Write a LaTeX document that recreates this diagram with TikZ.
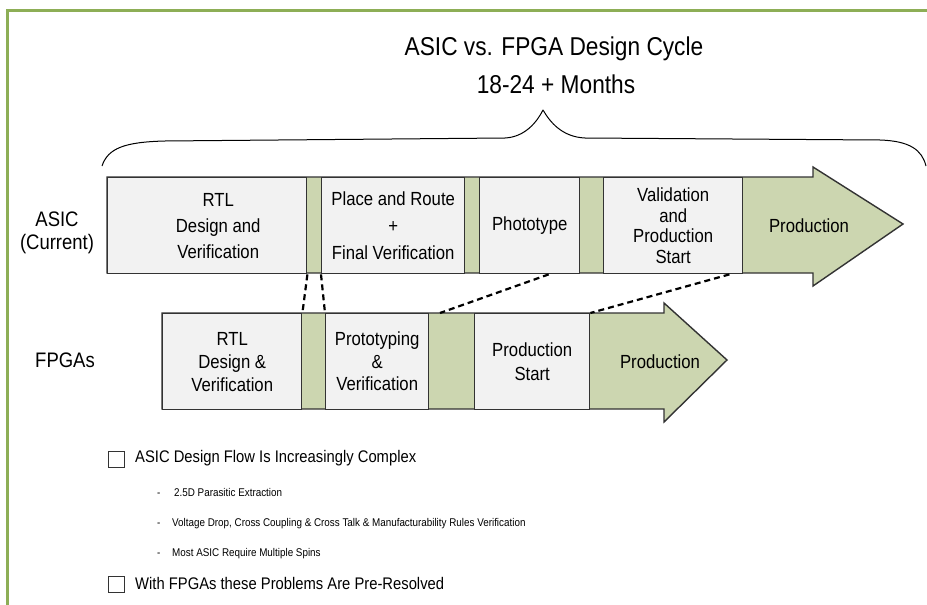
\documentclass[tikz,border=0pt]{standalone}
\usepackage{fontspec}
\setmainfont{Liberation Sans}[FakeStretch=0.88]
\definecolor{sage}{HTML}{CCD6B0}
\definecolor{boxgray}{HTML}{F2F2F2}
\definecolor{edge}{HTML}{333333}
\definecolor{framegreen}{HTML}{8DAE56}
\begin{document}
\begin{tikzpicture}[x=1pt,y=-1pt,
  stage/.style={draw=edge, line width=1.4pt, fill=boxgray, rectangle, anchor=north west, inner sep=0pt, align=center, minimum height=96pt},
  arrowshape/.style={draw=edge, line width=1.4pt, fill=sage},
  link/.style={line width=2.2pt, dash pattern=on 6pt off 4pt},
  lbl/.style={font=\fontsize{21}{23}\selectfont, align=center, inner sep=0pt},
  prod/.style={font=\fontsize{19}{22}\selectfont, inner sep=0pt},
  ttl/.style={font=\fontsize{25.8}{28}\selectfont, inner sep=0pt},
  chk/.style={draw=edge, line width=1.1pt, minimum size=16pt, inner sep=0pt, fill=white},
  bigitem/.style={anchor=west, font=\fontsize{16.8}{18}\selectfont, inner sep=0pt},
  smallitem/.style={anchor=base west, font=\fontsize{11.2}{13}\selectfont, inner sep=0pt}
]
\useasboundingbox (0,0) rectangle (927,605);
% frame
\draw[framegreen, line width=2.5pt] (7.5,606) -- (7.5,10.5) -- (928,10.5);
% title
\node[ttl] (title) at (554,48.5) {ASIC vs. FPGA Design Cycle};
\node[ttl] (months) at (556,84) {18-24 + Months};
% brace
\draw[line width=1pt, line join=round] (102,166) .. controls (108,148) and (125,142) .. (165,141)
  -- (505,138) .. controls (525,137) and (537,122) .. (543,110)
  .. controls (550,122) and (562,137) .. (585,138)
  -- (880,140) .. controls (910,141) and (922,150) .. (926,166);
% ASIC row
\draw[arrowshape] (107,177) -- (813,177) -- (813,167) -- (903,224) -- (813,286) -- (813,273) -- (107,273) -- cycle;
\node[stage, minimum width=199pt, font=\fontsize{19}{26}\selectfont] (a1) at (107,177) {\hspace*{22pt}RTL\\\hspace*{22pt}Design and\\\hspace*{22pt}Verification};
\node[stage, minimum width=143pt, font=\fontsize{19}{27}\selectfont] (a2) at (321,177) {Place and Route\\+\\Final Verification};
\node[stage, minimum width=100pt, font=\fontsize{19}{22}\selectfont] (a3) at (479,177) {Phototype};
\node[stage, minimum width=139pt, font=\fontsize{19}{20.5}\selectfont] (a4) at (603,177) {Validation\\and\\Production\\Start};
\node[prod] (p1) at (809,226) {Production};
\node[lbl] (asic) at (57,233) {ASIC\\(Current)};
% FPGA row
\draw[arrowshape] (162,313) -- (664,313) -- (664,303) -- (727,360) -- (664,422) -- (664,409) -- (162,409) -- cycle;
\node[stage, minimum width=139pt, font=\fontsize{19}{23}\selectfont] (f1) at (162,313) {RTL\\Design \&\\Verification};
\node[stage, minimum width=103pt, font=\fontsize{19}{22.5}\selectfont] (f2) at (325,313) {Prototyping\\\&\\Verification};
\node[stage, minimum width=115pt, font=\fontsize{19}{24}\selectfont] (f3) at (474,313) {Production\\Start};
\node[prod] (p2) at (660,362) {Production};
\node[lbl] (fpga) at (65,360) {FPGAs};
% dashed links
\coordinate (g2) at (440,313);
\draw[link] (a1.south east) -- (f1.north east);
\draw[link] (a2.south west) -- (f2.north west);
\draw[link] ([xshift=19pt]a3.south) -- (g2);
\draw[link] ([xshift=-14pt]a4.south east) -- (f3.north east);
% list
\node[chk] (cb1) at (116.5,459.5) {};
\node[bigitem] (t1) at (135,458) {ASIC Design Flow Is Increasingly Complex};
\node[smallitem] (m1) at (157,496) {-};
\node[smallitem] (s1) at (174,496) {2.5D Parasitic Extraction};
\node[smallitem] (m2) at (157,526) {-};
\node[smallitem] (s2) at (172,526) {Voltage Drop, Cross Coupling \& Cross Talk \& Manufacturability Rules Verification};
\node[smallitem] (m3) at (157,556) {-};
\node[smallitem] (s3) at (172,556) {Most ASIC Require Multiple Spins};
\node[chk] (cb2) at (116.5,584.5) {};
\node[bigitem] (t2) at (135,583) {With FPGAs these Problems Are Pre-Resolved};
\end{tikzpicture}
\end{document}
